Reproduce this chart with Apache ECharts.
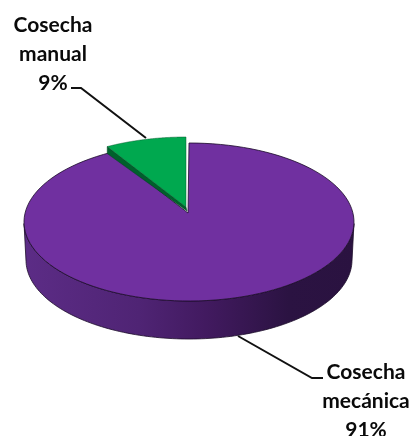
<!DOCTYPE html>
<html><head><meta charset="utf-8">
<style>html,body{margin:0;padding:0;background:#fff}#c{width:412px;height:436px}</style>
<script src="https://cdn.jsdelivr.net/npm/echarts@6/dist/echarts.min.js"></script>
</head><body><div id="c"></div>
<script>
const categories = ['Cosecha mecánica', 'Cosecha manual'];
const values = [91, 9];
const sliceColors = ['#7030A0', '#00A84F'];
const sideColors = ['#4a2070', '#00602C'];

const total = values.reduce((a, b) => a + b, 0);
const view = {cx: 189, cy: 222, rx: 165, ry: 79, apexY: 213, depth: 38, squeeze: 0.88, bottomRx: 163};
const layouts = [
  {dx: 0, dy: 0, apexDx: -1, apexDy: 0, text: {x: 366, y: 401}, leader: [[238, 336], [312, 378], [323, 378]]},
  {dx: -3, dy: -6, apexDx: 0, apexDy: 0, text: {x: 53, y: 54}, leader: [[71, 88], [81, 88], [146, 138]]}
];
function arcPoints(a0, a1, dx, dy, rx, cyOff) {
  const n = 120, pts = [];
  for (let i = 0; i <= n; i++) {
    const t = a0 + (a1 - a0) * i / n;
    pts.push([view.cx + dx + rx * Math.sin(t), view.cy + dy + (cyOff || 0) - view.ry * Math.cos(t)]);
  }
  return pts;
}
function renderItem(params, api) {
  const i = params.dataIndex, v = api.value(0), L = layouts[i];
  const sweep = 2 * Math.PI * (values[1] / total) * view.squeeze;
  const children = [];
  const apex = [view.cx + L.dx + L.apexDx, view.apexY + L.dy + L.apexDy];
  const lineText = {fill: '#0a0a0a', font: 'bold 21px Lato', lineHeight: 29, align: 'center', verticalAlign: 'middle'};
  if (i === 0) {
    const top = arcPoints(Math.PI / 2 + 0.02, 1.5 * Math.PI - 0.02, 0, 0, view.rx);
    const bot = arcPoints(1.5 * Math.PI - 0.02, Math.PI / 2 + 0.02, 0, 0, view.bottomRx, view.depth);
    children.push({type: 'polygon', shape: {points: top.concat(bot)}, style: {
      fill: new echarts.graphic.LinearGradient(0, 0, 1, 0, [
        {offset: 0, color: '#5c2c86'}, {offset: 0.35, color: '#4f2474'},
        {offset: 0.55, color: '#421a60'}, {offset: 0.8, color: '#2b1342'}, {offset: 1, color: '#2a1240'}]),
      stroke: '#1c0c2a', lineWidth: 0.8}});
    const pie = arcPoints(0, 2 * Math.PI - sweep, 0, 0, view.rx);
    children.push({type: 'polygon', shape: {points: [apex].concat(pie)}, style: {fill: api.visual('color'), stroke: '#1c0c2a', lineWidth: 0.8}});
  } else {
    const arc = arcPoints(-sweep, 0, L.dx, L.dy, view.rx);
    const corner = arc[0];
    children.push({type: 'polygon', shape: {points: [corner, apex, [apex[0] + 1, apex[1] + 4], [corner[0], corner[1] + 7]]}, style: {fill: sideColors[1], stroke: '#00401d', lineWidth: 0.5}});
    children.push({type: 'polygon', shape: {points: [apex].concat(arc)}, style: {fill: api.visual('color'), stroke: '#0a5a30', lineWidth: 0.5}});
  }
  children.push({type: 'polyline', shape: {points: L.leader}, style: {stroke: '#111', lineWidth: 2, fill: null}});
  const words = categories[i].split(' ');
  children.push({type: 'text', style: Object.assign({x: L.text.x, y: L.text.y, text: words.concat(v + '%').join('\n')}, lineText)});
  return {type: 'group', children};
}
const chart = echarts.init(document.getElementById('c'), null, {renderer: 'canvas'});
chart.setOption({
  animation: false,
  backgroundColor: '#fff',
  series: [{
    type: 'custom', coordinateSystem: 'none', renderItem,
    data: values.map((v, i) => ({name: categories[i], value: [v], itemStyle: {color: sliceColors[i]}}))
  }]
});
</script></body></html>
